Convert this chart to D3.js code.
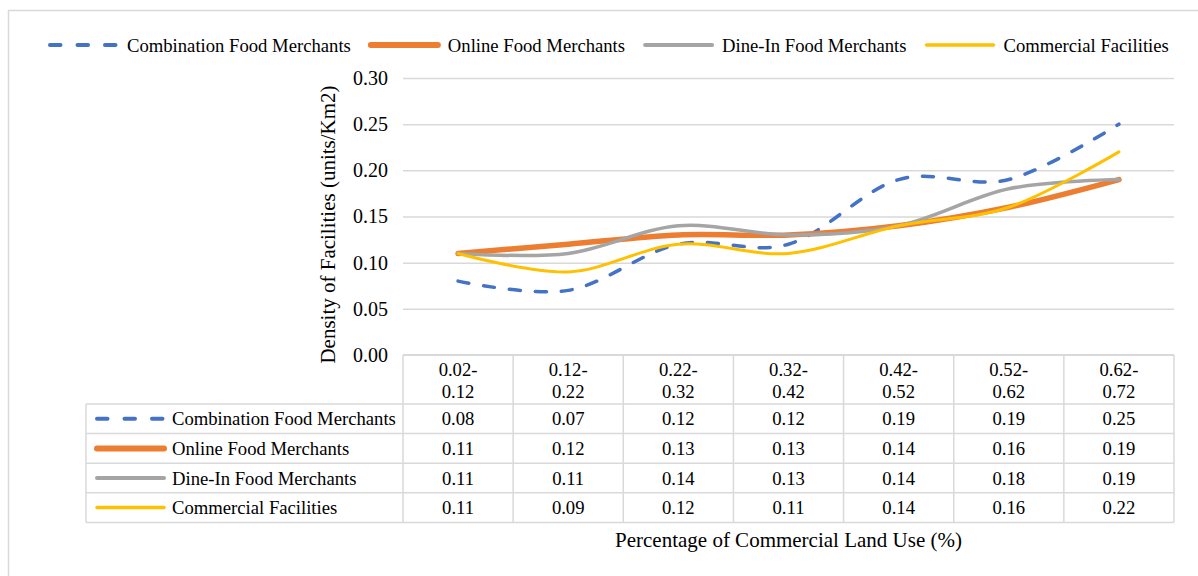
<!DOCTYPE html>
<html>
<head>
<meta charset="utf-8">
<script src="https://cdn.jsdelivr.net/npm/d3@7"></script>
<style>
  html, body { margin: 0; padding: 0; background: #fff; }
  svg { display: block; }
  svg text { font-family: "Liberation Serif", "Times New Roman", serif; fill: #000; }
</style>
</head>
<body>
<svg id="chart" width="1198" height="576"></svg>
<script>
// Commercial land-use share bins (%)
const categories = ["0.02-0.12", "0.12-0.22", "0.22-0.32", "0.32-0.42", "0.42-0.52", "0.52-0.62", "0.62-0.72"];

// Facility densities (units/Km2) per bin
const seriesNames = ["Combination Food Merchants", "Online Food Merchants", "Dine-In Food Merchants", "Commercial Facilities"];
const combinationFood = [0.08, 0.07, 0.12, 0.12, 0.19, 0.19, 0.25];
const onlineFood      = [0.11, 0.12, 0.13, 0.13, 0.14, 0.16, 0.19];
const dineInFood      = [0.11, 0.11, 0.14, 0.13, 0.14, 0.18, 0.19];
const commercialFac   = [0.11, 0.09, 0.12, 0.11, 0.14, 0.16, 0.22];

const yTicks = [0, 0.05, 0.10, 0.15, 0.20, 0.25, 0.30];
const yTitle = "Density of Facilities (units/Km2)";
const xTitle = "Percentage of Commercial Land Use (%)";

const series = [
  { name: seriesNames[0], values: combinationFood, color: "#4472C4", width: 3.5, dash: "11 15" },
  { name: seriesNames[1], values: onlineFood,      color: "#ED7D31", width: 5.5, dash: null },
  { name: seriesNames[2], values: dineInFood,      color: "#A5A5A5", width: 3.5, dash: null },
  { name: seriesNames[3], values: commercialFac,   color: "#FFC000", width: 3,   dash: null }
];

const svg = d3.select("#chart");
const grid = "#d9d9d9";
const fmt = d3.format(".2f");

// chart frame
svg.append("rect")
  .attr("x", 8.5).attr("y", 10.5).attr("width", 1300).attr("height", 700)
  .attr("fill", "#fff").attr("stroke", grid).attr("stroke-width", 1.5);

// plot area
const plotL = 403, plotR = 1174, plotT = 78, plotB = 355;
const x = d3.scaleBand().domain(categories).range([plotL, plotR]);
const y = d3.scaleLinear().domain([0, 0.30]).range([plotB, plotT]);
const cx = c => x(c) + x.bandwidth() / 2;

// y axis with horizontal gridlines
const yAxis = svg.append("g")
  .attr("transform", `translate(${plotL},0)`)
  .call(d3.axisLeft(y).tickValues(yTicks).tickFormat(fmt).tickSize(-(plotR - plotL)).tickPadding(15));
yAxis.attr("font-family", null);
yAxis.select(".domain").remove();
yAxis.selectAll(".tick line").attr("stroke", grid).attr("stroke-width", 1.5)
  .filter(d => d === 0).remove();
yAxis.selectAll(".tick text")
  .attr("fill", "#000").style("font-size", "20px");

svg.append("text")
  .attr("transform", `translate(335,${(plotT + plotB) / 2 + 8}) rotate(-90)`)
  .attr("text-anchor", "middle")
  .style("font-size", "21px")
  .text(yTitle);

// data table
const rowTop = 404, rowH = 29.6, labelLeft = 86;
const tbl = svg.append("g");
const lineStyle = s => sel => sel.attr("stroke", grid).attr("stroke-width", s);

// header cells
tbl.append("line").attr("x1", plotL).attr("x2", plotR).attr("y1", plotB).attr("y2", plotB).call(lineStyle(2));
const bounds = categories.map(c => x(c)).concat([plotR]);
const nRows = series.length;
const tableBottom = rowTop + nRows * rowH;
bounds.forEach(bx => {
  tbl.append("line").attr("x1", bx).attr("x2", bx).attr("y1", plotB).attr("y2", tableBottom).call(lineStyle(1.5));
});
tbl.append("line").attr("x1", labelLeft).attr("x2", labelLeft).attr("y1", rowTop).attr("y2", tableBottom).call(lineStyle(1.5));
d3.range(nRows + 1).forEach(i => {
  const yy = rowTop + i * rowH;
  tbl.append("line").attr("x1", labelLeft).attr("x2", plotR).attr("y1", yy).attr("y2", yy).call(lineStyle(1.5));
});

// header labels, split after the hyphen
categories.forEach(c => {
  const parts = c.split("-");
  const t = tbl.append("text").attr("text-anchor", "middle").style("font-size", "18.67px");
  t.append("tspan").attr("x", cx(c)).attr("y", 376).text(parts[0] + "-");
  t.append("tspan").attr("x", cx(c)).attr("y", 397.5).text(parts[1]);
});

// rows: legend key, name, values
series.forEach((s, i) => {
  const midY = rowTop + i * rowH + rowH / 2;
  tbl.append("line")
    .attr("x1", 97).attr("x2", 164).attr("y1", midY).attr("y2", midY)
    .attr("stroke", s.color).attr("stroke-width", s.width + 0.5).attr("stroke-linecap", "round")
    .attr("stroke-dasharray", s.dash ? "10.5 17" : null);
  tbl.append("text").attr("x", 172).attr("y", midY + 6.5)
    .style("font-size", "18.67px").text(s.name);
  tbl.selectAll(null).data(s.values).enter().append("text")
    .attr("x", (d, j) => cx(categories[j])).attr("y", midY + 6.5)
    .attr("text-anchor", "middle").style("font-size", "18.67px")
    .text(d => fmt(d));
});

svg.append("text")
  .attr("x", (plotL + plotR) / 2).attr("y", 547)
  .attr("text-anchor", "middle").style("font-size", "21px")
  .text(xTitle);

// smoothed series lines
const line = d3.line()
  .x((d, j) => cx(categories[j]))
  .y(d => y(d))
  .curve(d3.curveCatmullRom.alpha(0));

svg.append("g").selectAll("path").data(series).enter().append("path")
  .attr("d", s => line(s.values))
  .attr("fill", "none")
  .attr("stroke", s => s.color)
  .attr("stroke-width", s => s.width)
  .attr("stroke-linecap", "round")
  .attr("stroke-dasharray", s => s.dash);

// legend across the top
const legend = svg.append("g");
let lx = 50;
const ly = 45;
series.forEach(s => {
  legend.append("line")
    .attr("x1", lx).attr("x2", lx + 67).attr("y1", ly).attr("y2", ly)
    .attr("stroke", s.color).attr("stroke-width", s.width + 0.5).attr("stroke-linecap", "round")
    .attr("stroke-dasharray", s.dash ? "10.5 17" : null);
  const t = legend.append("text").attr("x", lx + 77).attr("y", ly + 6.5)
    .style("font-size", "18.67px").text(s.name);
  lx += 77 + t.node().getComputedTextLength() + 20;
});
</script>
</body>
</html>
